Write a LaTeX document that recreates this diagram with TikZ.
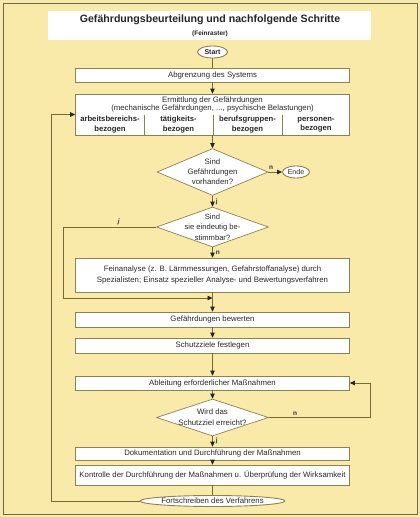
\documentclass[tikz,border=0pt]{standalone}
\usepackage{fontspec}
\setmainfont{Liberation Sans}
\usetikzlibrary{shapes.geometric,arrows.meta}
\definecolor{bg}{RGB}{250,234,170}
\definecolor{framec}{RGB}{110,104,80}
\definecolor{boxc}{RGB}{140,128,85}
\definecolor{linec}{RGB}{120,104,50}
\definecolor{txt}{RGB}{40,40,40}
\begin{document}
\begin{tikzpicture}[x=1pt,y=-1pt,
  font=\fontsize{7.8}{9}\selectfont, text=txt,
  box/.style={draw=boxc, fill=white, line width=0.7pt, minimum width=274pt, inner sep=0pt, align=center},
  ell/.style={ellipse, draw=boxc, fill=white, line width=0.9pt, inner sep=0pt},
  dia/.style={diamond, draw=boxc, fill=white, line width=0.7pt, inner sep=0pt},
  con/.style={draw=linec, line width=0.8pt},
  arr/.style={con, -{Triangle[length=5pt,width=4.5pt,color=black!85]}},
  lab/.style={font=\fontsize{6.5}{7}\selectfont\bfseries, text=black!80, inner sep=1pt},
  colt/.style={font=\fontsize{7.7}{9.5}\selectfont\bfseries, align=center, inner sep=0pt},
  dtext/.style={align=center, inner sep=0pt}
]
\useasboundingbox (0,0) rectangle (420,517);
\fill[bg] (0,0) rectangle (420,517);
\draw[framec, line width=1pt] (3,3) rectangle (417,514);

% title
\node[fill=white, minimum width=323pt, minimum height=29pt, inner sep=0pt] (title) at (209.5,25.5) {};
\node[font=\fontsize{10.6}{12}\selectfont\bfseries, text=black!85] (t1) at (210,20) {Gefährdungsbeurteilung und nachfolgende Schritte};
\node[font=\fontsize{6.5}{7}\selectfont\bfseries, text=black!85] (t2) at (210,34) {(Feinraster)};

% nodes
\node[ell, minimum width=30pt, minimum height=12pt, font=\fontsize{7}{8}\selectfont\bfseries] (start) at (212.5,52) {Start};
\node[box, minimum height=14pt] (abgr) at (212.5,75) {Abgrenzung des Systems};
\node[box, minimum height=41pt] (erm) at (212.5,114.5) {};
\node[inner sep=0pt] (e1) at (212.5,100) {Ermittlung der Gefährdungen};
\node[inner sep=0pt] (e2) at (212.5,108.5) {(mechanische Gefährdungen, ..., psychische Belastungen)};
\node[colt] (c1) at (110,124.5) {arbeitsbereichs-\\bezogen};
\node[colt] (c2) at (178.5,124.5) {tätigkeits-\\bezogen};
\node[colt] (c3) at (247.5,124.5) {berufsgruppen-\\bezogen};
\node[colt] (c4) at (316,124.5) {personen-\\bezogen};
\draw[boxc, line width=0.6pt] (144,115) -- (144,135) (213,115) -- (213,135) (282,115) -- (282,135);

\node[dia, minimum width=111pt, minimum height=47pt] (d1) at (212.5,172) {};
\node[dtext, font=\fontsize{7.8}{10}\selectfont] (d1t) at (d1) {Sind\\Gefährdungen\\vorhanden?};
\node[ell, minimum width=27pt, minimum height=12pt, font=\fontsize{7}{8}\selectfont] (ende) at (296,172) {Ende};

\node[dia, minimum width=112pt, minimum height=40pt] (d2) at (212.5,227) {};
\node[dtext, font=\fontsize{7.6}{10.3}\selectfont] (d2t) at (212.5,227) {Sind\\sie eindeutig be-\\stimmbar?};

\node[box, minimum height=34pt, font=\fontsize{7.8}{11}\selectfont] (fein) at (212.5,275) {Feinanalyse (z. B. Lärmmessungen, Gefahrstoffanalyse) durch\\Spezialisten; Einsatz spezieller Analyse- und Bewertungsverfahren};
\coordinate (jn) at (212.5,298);
\coordinate (lc) at (63,298);

\node[box, minimum height=15pt] (bew) at (212.5,319.5) {Gefährdungen bewerten};
\node[box, minimum height=15pt] (schutz) at (212.5,345.5) {Schutzziele festlegen};
\node[box, minimum height=14pt] (ableit) at (212.5,383) {Ableitung erforderlicher Maßnahmen};
\coordinate (rc) at (370,383);

\node[dia, minimum width=112pt, minimum height=37pt] (d3) at (212.5,417.5) {};
\node[dtext, font=\fontsize{7.8}{11}\selectfont] (d3t) at (d3) {Wird das\\Schutzziel erreicht?};

\node[box, minimum height=13pt] (doku) at (212.5,453.5) {Dokumentation und Durchführung der Maßnahmen};
\node[box, minimum height=20pt] (kontr) at (212.5,475) {Kontrolle der Durchführung der Maßnahmen u. Überprüfung der Wirksamkeit};
\node[ell, minimum width=131pt, minimum height=11pt] (fort) at (212.5,501) {Fortschreiben des Verfahrens};
\coordinate (blc) at (51,114.5);

% connectors
\draw[con] (start) -- (abgr);
\draw[arr] (abgr) -- (erm);
\draw[arr] (erm) -- (d1);
\draw[arr] (d1) -- node[lab, pos=0.2, above=1pt] {n} (ende);
\draw[arr] (d1) -- node[lab, right=2pt, pos=0.55] {j} (d2);
\draw[arr] (d2) -- node[lab, right=2pt, pos=0.5] {n} (fein);
\draw[arr] (d2.west) -| node[lab, pos=0.2, above=0.5pt] {\itshape j} (lc) -- (jn);
\draw[arr] (fein) -- (bew);
\draw[arr] (bew) -- (schutz);
\draw[arr] (schutz) -- (ableit);
\draw[arr] (ableit) -- (d3);
\draw[arr] (d3) -- node[lab, right=2pt, pos=0.45] {j} (doku);
\draw[arr] (d3.east) -| node[lab, pos=0.13, above=0.5pt] {n} (rc) -- (ableit.east);
\draw[arr] (doku) -- (kontr);
\draw[con] (kontr) -- (fort);
\draw[arr] (fort.west) -| (blc) -- (erm.west);
\end{tikzpicture}
\end{document}
